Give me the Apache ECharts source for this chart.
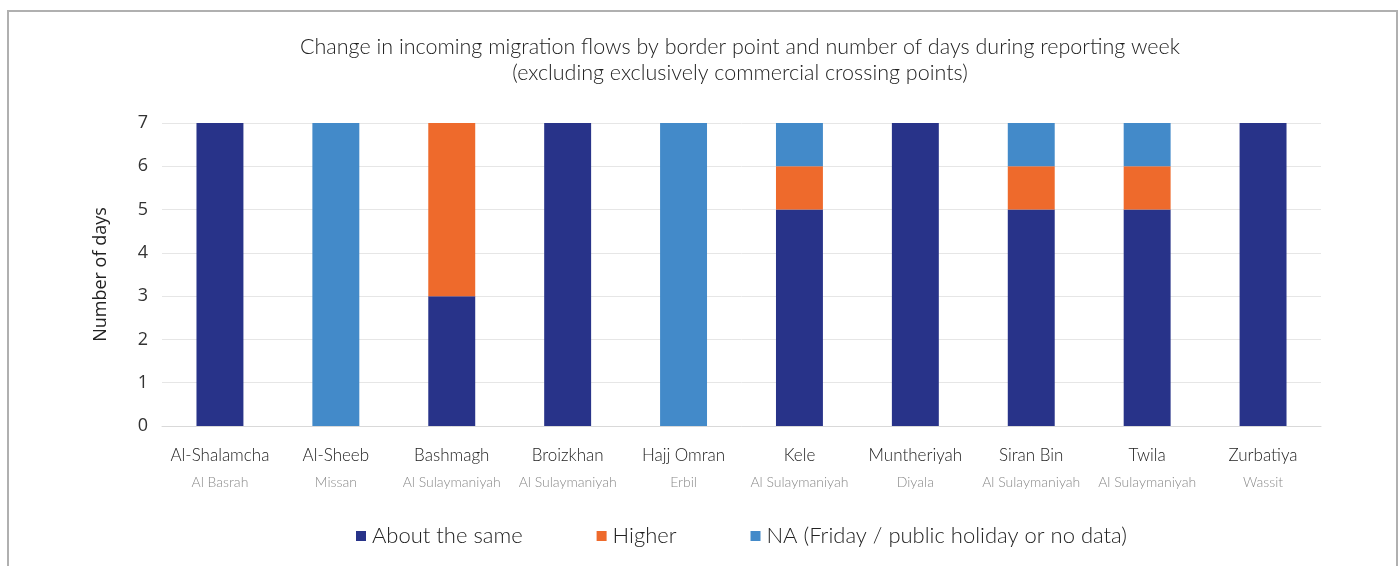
<!DOCTYPE html>
<html>
<head>
<meta charset="utf-8">
<script src="https://cdn.jsdelivr.net/npm/echarts@6/dist/echarts.min.js"></script>
<style>
html,body{margin:0;padding:0;background:#fff;}
#c{width:1400px;height:566px;}
</style>
</head>
<body>
<div id="c"></div>
<script>
const borderPoints = ['Al-Shalamcha','Al-Sheeb','Bashmagh','Broizkhan','Hajj Omran','Kele','Muntheriyah','Siran Bin','Twila','Zurbatiya'];
const governorates = ['Al Basrah','Missan','Al Sulaymaniyah','Al Sulaymaniyah','Erbil','Al Sulaymaniyah','Diyala','Al Sulaymaniyah','Al Sulaymaniyah','Wassit'];
const aboutSame = [7,0,3,7,0,5,7,5,5,7];
const higher = [0,0,4,0,0,1,0,1,1,0];
const naDays = [0,7,0,0,7,1,0,1,1,0];
const yTicks = [0,1,2,3,4,5,6,7];

const chart = echarts.init(document.getElementById('c'));
const cats = borderPoints.map((b,i)=>b+'\n'+governorates[i]);
const font = 'Lato, "Open Sans", sans-serif';
chart.setOption({
  animation:false,
  graphic:[{type:'rect',shape:{x:8,y:11,width:1389,height:600},style:{fill:'none',stroke:'#b0b0b0',lineWidth:2},silent:true,z:-1}],
  title:{
    text:'Change in incoming migration flows by border point and number of days during reporting week\n(excluding exclusively commercial crossing points)',
    left:735, top:29, textAlign:'center',
    textStyle:{fontFamily:font,fontWeight:300,fontSize:21.5,color:'#222',lineHeight:26}
  },
  legend:{
    data:['About the same','Higher','NA (Friday / public holiday or no data)'],
    bottom:14, left:351,
    itemWidth:10,itemHeight:10,itemGap:74,icon:'rect',
    textStyle:{fontFamily:font,fontWeight:300,fontSize:22,color:'#222',padding:[0,0,0,1]}
  },
  grid:{left:162,right:79,top:123,bottom:140},
  xAxis:{
    type:'category',data:cats,
    axisLine:{lineStyle:{color:'#d9d9d9',width:1}},
    axisTick:{show:false},
    axisLabel:{
      interval:0,margin:17,
      formatter:function(v){const p=v.split('\n');return '{a|'+p[0]+'}\n{b|'+p[1]+'}';},
      rich:{
        a:{fontFamily:font,fontWeight:300,fontSize:17,color:'#222',lineHeight:26},
        b:{fontFamily:font,fontWeight:300,fontSize:14,color:'#8a8a8a',lineHeight:26}
      }
    }
  },
  yAxis:{
    type:'value',min:0,max:7,interval:1,
    name:'Number of days',nameLocation:'middle',nameGap:52,nameRotate:90,
    nameTextStyle:{fontFamily:'"Open Sans", sans-serif',fontSize:18,color:'#222'},
    axisLine:{show:false},axisTick:{show:false},
    axisLabel:{fontFamily:'"Open Sans", sans-serif',fontSize:18,color:'#333',margin:14,
      formatter:function(v){return yTicks.indexOf(v)>=0?String(v):'';}},
    splitLine:{lineStyle:{color:'#e6e6e6',width:1}}
  },
  series:[
    {name:'About the same',type:'bar',stack:'s',data:aboutSame,barWidth:'40.5%',itemStyle:{color:'#283389'}},
    {name:'Higher',type:'bar',stack:'s',data:higher,itemStyle:{color:'#ee6a2c'}},
    {name:'NA (Friday / public holiday or no data)',type:'bar',stack:'s',data:naDays,itemStyle:{color:'#438ac9'}}
  ]
});
</script>
</body>
</html>
